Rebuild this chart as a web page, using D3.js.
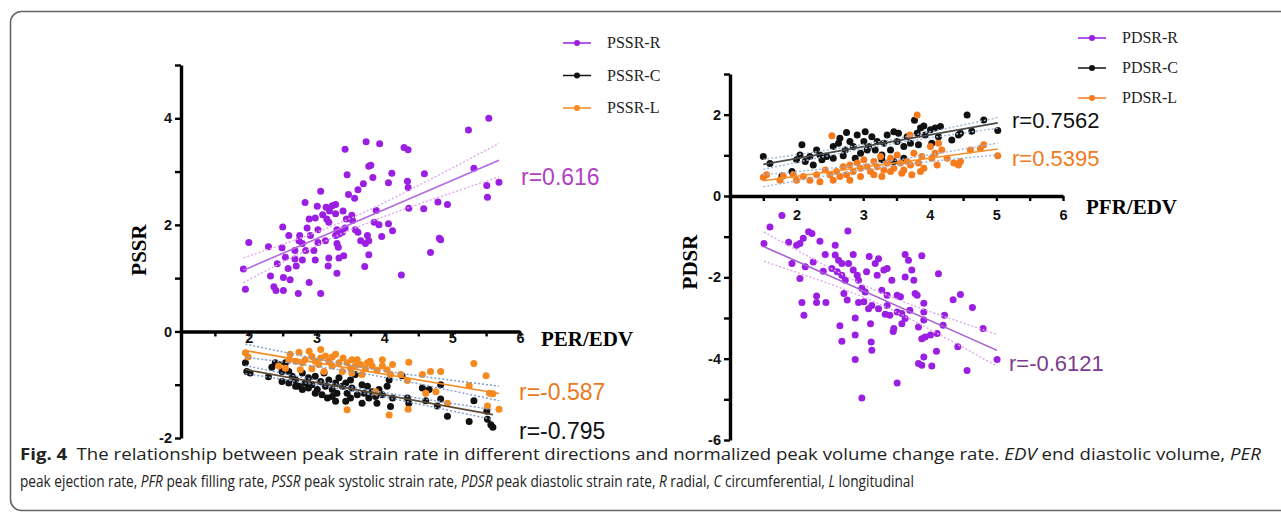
<!DOCTYPE html>
<html><head><meta charset="utf-8">
<script src="https://cdn.jsdelivr.net/npm/d3@7"></script>
<style>
html,body{margin:0;padding:0;background:#fff;}
svg{display:block;}
</style></head>
<body>
<svg id="chart" width="1281" height="515"></svg>
<script>
// ---------- DATA ----------
const xTicks = [1.5,2,2.5,3,3.5,4,4.5,5,5.5,6];
const yTicksLeft = [-2,-1,0,1,2,3,4,5];
const yTicksRight = [-6,-5,-4,-3,-2,-1,0,1,2,3];
const legendLeft = ["PSSR-R","PSSR-C","PSSR-L"];
const legendRight = ["PDSR-R","PDSR-C","PDSR-L"];
const rLeft = ["r=0.616","r=-0.587","r=-0.795"];
const rRight = ["r=0.7562","r=0.5395","r=-0.6121"];

const pssrR = [[5.54,4.00],[5.24,3.78],[3.73,3.56],[3.93,3.52],[3.42,3.42],[4.29,3.45],[4.35,3.41],[3.77,3.10],[3.80,3.12],[5.32,3.06],[3.45,2.94],[4.11,2.97],[4.59,2.96],[3.83,2.89],[4.06,2.79],[4.34,2.82],[4.35,2.70],[3.69,2.77],[3.61,2.66],[5.69,2.80],[5.51,2.74],[5.52,2.52],[3.06,2.63],[3.47,2.57],[3.56,2.50],[2.83,2.42],[3.01,2.35],[3.14,2.33],[3.23,2.36],[3.28,2.38],[3.39,2.26],[3.19,2.26],[4.36,2.31],[4.58,2.30],[4.79,2.43],[4.93,2.38],[3.88,2.27],[2.98,2.13],[2.89,2.11],[3.15,2.11],[3.18,2.05],[3.44,2.11],[3.53,2.08],[3.85,2.05],[3.92,2.00],[4.06,2.02],[4.12,1.89],[2.50,1.96],[2.86,1.94],[3.30,1.91],[3.42,1.94],[3.38,1.86],[3.57,1.91],[3.61,1.86],[2.59,1.80],[2.75,1.80],[2.91,1.80],[3.28,1.80],[3.33,1.83],[3.75,1.80],[3.96,1.78],[2.00,1.67],[2.29,1.59],[2.49,1.57],[2.74,1.70],[2.79,1.65],[3.02,1.67],[3.13,1.70],[3.30,1.65],[3.32,1.58],[3.65,1.70],[3.72,1.65],[3.77,1.70],[4.81,1.75],[4.83,1.72],[2.68,1.52],[2.84,1.52],[2.96,1.52],[2.54,1.39],[2.68,1.36],[2.79,1.34],[2.98,1.34],[3.18,1.38],[3.33,1.38],[3.40,1.42],[3.77,1.44],[4.68,1.48],[2.42,1.27],[2.70,1.23],[2.58,1.18],[3.17,1.23],[3.71,1.22],[1.92,1.17],[2.32,1.04],[2.51,1.01],[2.61,0.97],[3.30,1.09],[4.25,1.06],[2.89,0.92],[2.37,0.84],[2.40,0.77],[2.51,0.77],[1.95,0.79],[2.73,0.71],[3.06,0.71],[3.09,2.19],[3.28,2.21],[3.52,2.18],[3.02,1.91]];

const pssrL = [[1.95,-0.40],[1.99,-0.48],[2.61,-0.43],[2.74,-0.39],[2.89,-0.37],[3.06,-0.34],[3.13,-0.46],[3.28,-0.43],[3.39,-0.50],[2.59,-0.53],[2.69,-0.56],[2.79,-0.59],[2.83,-0.53],[2.98,-0.56],[3.03,-0.62],[3.18,-0.56],[3.23,-0.65],[3.33,-0.59],[3.45,-0.59],[3.50,-0.69],[3.57,-0.65],[3.65,-0.62],[3.72,-0.70],[3.79,-0.56],[3.82,-0.65],[3.89,-0.73],[3.97,-0.65],[4.12,-0.62],[4.36,-0.58],[4.09,-0.81],[4.24,-0.81],[4.34,-0.92],[4.56,-0.81],[4.68,-0.75],[4.83,-0.75],[5.32,-0.60],[5.50,-0.83],[4.61,-1.16],[4.76,-1.13],[4.93,-1.35],[5.25,-1.02],[5.55,-1.16],[5.60,-1.17],[5.69,-1.46],[5.52,-1.40],[4.07,-1.57],[4.35,-1.46],[3.45,-1.47],[3.87,-1.13],[2.54,-0.69],[2.44,-0.65],[2.76,-0.72],[2.93,-0.70],[3.11,-0.75],[3.52,-0.78],[3.67,-0.81],[3.38,-0.75],[3.06,-0.50],[2.93,-0.47],[3.23,-0.48],[3.52,-0.53],[3.60,-0.53],[3.97,-0.53],[3.75,-0.59],[4.04,-0.72]];

const pssrC = [[1.95,-0.59],[1.97,-0.75],[2.02,-0.78],[2.29,-0.85],[2.34,-0.67],[2.39,-0.59],[2.44,-0.62],[2.49,-0.75],[2.54,-0.59],[2.59,-0.75],[2.49,-0.94],[2.64,-0.84],[2.69,-0.91],[2.74,-1.03],[2.79,-0.78],[2.83,-0.97],[2.88,-0.87],[2.93,-1.00],[2.98,-0.84],[3.01,-1.09],[3.06,-0.94],[3.11,-0.78],[3.13,-1.03],[3.18,-0.91],[3.23,-1.09],[3.28,-0.97],[3.30,-1.16],[3.33,-0.87],[3.38,-1.03],[3.43,-0.97],[3.45,-1.16],[3.50,-0.91],[3.52,-1.06],[3.57,-0.81],[3.60,-1.19],[3.67,-1.00],[3.70,-1.16],[3.75,-1.03],[3.77,-1.25],[3.82,-1.13],[3.87,-1.22],[3.92,-1.09],[3.97,-1.19],[4.04,-1.03],[4.07,-0.91],[4.09,-1.41],[4.12,-1.25],[4.26,-0.83],[4.34,-1.25],[4.36,-1.35],[4.56,-1.06],[4.61,-1.30],[4.66,-1.09],[4.78,-1.40],[4.83,-1.27],[4.83,-1.00],[4.93,-1.59],[5.25,-1.69],[5.32,-1.30],[5.51,-1.50],[5.52,-1.65],[5.57,-1.75],[5.60,-1.80],[3.43,-1.31],[3.16,-1.25],[2.79,-1.09],[2.98,-1.16],[3.08,-1.19],[3.23,-1.22],[3.50,-1.25],[3.67,-1.35],[3.89,-1.35],[3.28,-1.31],[2.88,-1.06],[2.69,-1.03],[2.59,-0.97]];

const pdsrC = [[1.50,0.97],[1.60,0.80],[1.78,0.49],[1.93,0.60],[2.08,1.26],[2.05,1.01],[2.13,0.85],[2.20,0.97],[2.30,1.13],[2.35,1.01],[2.25,0.76],[2.45,0.97],[2.55,1.22],[2.63,1.30],[2.65,1.42],[2.75,1.56],[2.73,1.13],[2.80,1.34],[2.85,1.22],[2.91,1.50],[2.96,1.05],[3.01,1.34],[3.03,1.58],[3.08,1.22],[3.13,1.46],[3.18,1.13],[3.21,1.34],[3.28,1.01],[3.31,1.30],[3.36,1.50],[3.41,1.13],[3.46,1.58],[3.51,1.34],[3.53,1.54],[3.61,1.22],[3.66,1.46],[3.71,1.30],[3.77,1.86],[3.81,1.54],[3.86,1.67],[3.91,1.72],[3.93,1.50],[4.01,1.63],[4.08,1.67],[4.13,1.46],[4.16,1.71],[4.33,1.38],[4.43,1.50],[4.46,1.54],[4.56,1.99],[4.63,1.59],[4.81,1.87],[5.02,1.61],[2.70,0.99],[2.55,0.93],[2.38,0.89],[2.00,0.89],[2.88,0.93],[3.06,1.13],[3.61,0.93],[3.46,0.85],[3.28,0.89],[3.83,1.26],[4.03,1.30]];

const pdsrL = [[1.50,0.46],[1.55,0.52],[1.75,0.39],[1.80,0.49],[1.95,0.52],[2.00,0.39],[2.10,0.48],[2.20,0.39],[2.30,0.52],[2.35,0.35],[2.43,0.64],[2.50,0.52],[2.53,1.48],[2.60,0.60],[2.65,0.48],[2.70,0.72],[2.75,0.52],[2.80,0.76],[2.85,0.60],[2.91,0.81],[2.96,0.68],[3.01,0.89],[3.06,0.72],[3.11,0.60],[3.16,0.85],[3.21,0.72],[3.26,0.97],[3.31,0.64],[3.36,0.81],[3.41,0.93],[3.46,0.68],[3.51,1.01],[3.56,0.81],[3.61,0.64],[3.66,0.85],[3.70,1.50],[3.73,0.52],[3.76,1.05],[3.81,1.99],[3.83,0.81],[3.88,0.97],[3.91,0.68],[4.01,1.22],[4.03,0.93],[4.08,1.05],[4.13,1.30],[4.18,1.13],[4.26,0.93],[4.36,0.81],[4.43,0.76],[4.46,0.85],[4.61,1.13],[4.76,1.17],[4.81,1.26],[5.02,0.99],[2.55,0.39],[2.96,0.48],[3.16,0.52],[3.41,0.60],[3.58,0.56],[3.86,0.60],[4.11,0.76],[3.71,0.76],[3.28,0.48],[2.80,0.39]];

const pdsrR = [[1.78,-0.48],[1.60,-0.76],[1.51,-1.17],[1.88,-1.14],[2.00,-1.21],[2.05,-1.17],[2.10,-1.04],[2.18,-0.88],[2.23,-0.92],[2.35,-1.11],[2.77,-0.86],[1.93,-1.66],[2.13,-1.74],[2.05,-2.03],[2.25,-1.62],[2.43,-1.44],[2.40,-1.85],[2.53,-1.78],[2.58,-1.21],[2.58,-1.45],[2.63,-1.58],[2.68,-1.66],[2.61,-1.86],[2.68,-1.95],[2.73,-2.07],[2.78,-1.66],[2.85,-1.44],[2.85,-1.82],[2.91,-1.95],[2.93,-2.07],[2.98,-2.27],[3.03,-2.36],[3.05,-1.86],[3.09,-1.49],[3.18,-1.66],[3.23,-1.54],[3.21,-1.95],[3.28,-2.32],[3.31,-1.82],[3.36,-1.78],[3.36,-2.44],[3.43,-2.07],[3.51,-2.44],[3.56,-2.48],[3.63,-1.44],[3.68,-1.58],[3.63,-1.99],[3.73,-1.82],[3.76,-2.07],[3.78,-2.40],[3.81,-2.44],[3.88,-1.47],[3.91,-2.64],[2.71,-2.40],[2.76,-2.56],[2.30,-2.46],[2.30,-2.62],[2.44,-2.62],[2.08,-2.62],[2.11,-2.93],[2.93,-2.62],[3.01,-2.60],[3.08,-2.77],[3.13,-2.69],[3.23,-2.77],[3.33,-2.91],[3.40,-2.93],[3.36,-2.69],[3.51,-2.85],[3.58,-2.89],[3.63,-3.01],[3.58,-3.14],[3.46,-3.26],[3.45,-3.33],[3.70,-2.81],[3.91,-2.85],[3.91,-3.05],[3.83,-3.22],[3.88,-3.51],[3.93,-3.47],[4.01,-3.42],[4.11,-3.38],[4.13,-1.91],[4.22,-2.93],[4.20,-3.18],[4.35,-2.55],[4.46,-2.42],[4.64,-2.74],[4.80,-3.26],[5.01,-4.02],[4.56,-4.29],[4.42,-3.71],[4.10,-3.82],[4.03,-4.18],[3.88,-4.16],[3.83,-4.12],[3.91,-3.96],[3.51,-4.60],[2.98,-4.97],[2.88,-4.02],[2.65,-3.19],[2.68,-3.57],[2.88,-3.42],[2.88,-3.00],[3.12,-3.59],[3.13,-3.79],[3.11,-3.14]];

// ---------- STYLE ----------
const PURPLE = "#9b1fe2", ORANGE = "#f68a1e", BLACK = "#111";
const svg = d3.select("#chart");

svg.append("rect").attr("x",10.5).attr("y",11.5).attr("width",1320).attr("height",499)
  .attr("rx",11).attr("fill","none").attr("stroke","#666").attr("stroke-width",1.6);

function fit(data){
  const n=data.length, mx=d3.mean(data,d=>d[0]), my=d3.mean(data,d=>d[1]);
  let sxx=0,sxy=0; data.forEach(d=>{sxx+=(d[0]-mx)**2; sxy+=(d[0]-mx)*(d[1]-my);});
  const b=sxy/sxx, a=my-b*mx;
  let sse=0; data.forEach(d=>{sse+=(d[1]-a-b*d[0])**2;});
  const s=Math.sqrt(sse/(n-2)), t=1.98;
  const [x0,x1]=d3.extent(data,d=>d[0]);
  const xs=d3.range(0,41).map(i=>x0+(x1-x0)*i/40);
  const hw=x=>t*s*Math.sqrt(1/n+(x-mx)**2/sxx);
  return {line:[[x0,a+b*x0],[x1,a+b*x1]], lo:xs.map(x=>[x,a+b*x-hw(x)]), hi:xs.map(x=>[x,a+b*x+hw(x)])};
}

function panel(cfg){
  const g = svg.append("g");
  const x = d3.scaleLinear().domain([1,6]).range(cfg.xr);
  const y = d3.scaleLinear().domain(cfg.yd).range(cfg.yr);
  cfg.series.forEach(s=>{
    g.append("g").selectAll("circle").data(s.data).join("circle")
      .attr("cx",d=>x(d[0])).attr("cy",d=>y(d[1])).attr("r",3.5)
      .attr("fill",s.color);
  });
  const lg = d3.line().x(d=>x(d[0])).y(d=>y(d[1]));
  cfg.series.forEach(s=>{
    const f=fit(s.data);
    g.append("path").attr("d",lg(f.lo)).attr("fill","none").attr("stroke",s.band).attr("stroke-width",1.4).attr("stroke-dasharray","2,2");
    g.append("path").attr("d",lg(f.hi)).attr("fill","none").attr("stroke",s.band).attr("stroke-width",1.4).attr("stroke-dasharray","2,2");
    g.append("path").attr("d",lg(f.line)).attr("fill","none").attr("stroke",s.lineColor).attr("stroke-width",1.6);
  });
  const ya = g.append("g").attr("transform",`translate(${x(1)},0)`)
    .call(d3.axisLeft(y).tickValues(cfg.yTicks).tickSize(6).tickSizeOuter(0).tickPadding(3)
      .tickFormat(d=> d%2===0 ? d : ""));
  const xa = g.append("g").attr("transform",`translate(0,${y(0)})`)
    .call(d3.axisBottom(x).tickValues(xTicks).tickSize(5).tickSizeOuter(0)
      .tickFormat(d=> Number.isInteger(d) ? d : ""));
  [ya,xa].forEach(a=>{
    a.select(".domain").attr("stroke","#000").attr("stroke-width",3.4);
    a.selectAll(".tick line").attr("stroke","#000").attr("stroke-width",2.4);
    a.selectAll("text").attr("font-family","'Liberation Sans',Arial,sans-serif").attr("font-weight","bold")
      .attr("font-size",14.5).attr("fill","#111");
  });
  xa.selectAll("text").attr("y",cfg.xLabelY).attr("dy",0);
  g.append("text").attr("x",cfg.xTitle[0]).attr("y",cfg.xTitle[1])
    .attr("font-family","'Liberation Serif','Times New Roman',serif").attr("font-weight","bold")
    .attr("font-size",21).text(cfg.xTitleText);
  g.append("text").attr("transform",`translate(${cfg.yTitle[0]},${cfg.yTitle[1]}) rotate(-90)`)
    .attr("text-anchor","middle")
    .attr("font-family","'Liberation Serif','Times New Roman',serif").attr("font-weight","bold")
    .attr("font-size",21).text(cfg.yTitleText);
  cfg.legend.forEach((lab,i)=>{
    const ly = cfg.legendPos[1] + i*cfg.legendStep;
    const lx = cfg.legendPos[0];
    g.append("line").attr("x1",lx).attr("x2",lx+28).attr("y1",ly).attr("y2",ly)
      .attr("stroke",cfg.series[i].color).attr("stroke-width",1.5);
    g.append("circle").attr("cx",lx+14).attr("cy",ly).attr("r",3).attr("fill",cfg.series[i].color);
    g.append("text").attr("x",lx+44).attr("y",ly+5)
      .attr("font-family","'Liberation Serif','Times New Roman',serif").attr("font-size",16)
      .attr("fill","#222").text(lab);
  });
  cfg.rLabels.forEach(r=>{
    g.append("text").attr("x",r.x).attr("y",r.y).attr("fill",r.color)
      .attr("font-family","'Liberation Sans',Arial,sans-serif").attr("font-size",cfg.rSize)
      .text(r.text);
  });
}

panel({
  xr:[181,520], yd:[-2,5], yr:[438,65], yTicks:yTicksLeft, xLabelY:12,
  series:[
    {data:pssrR,color:PURPLE,lineColor:"#b468e0",band:"#e2a6ee"},
    {data:pssrC,color:BLACK,lineColor:"#5b4b3b",band:"#7f9ccc"},
    {data:pssrL,color:ORANGE,lineColor:"#f28a26",band:"#7f9ccc"}
  ],
  xTitle:[541,346], xTitleText:"PER/EDV",
  yTitle:[146,250], yTitleText:"PSSR",
  legend:legendLeft, legendPos:[563,43], legendStep:32.5,
  rSize:23,
  rLabels:[
    {x:521,y:185,text:rLeft[0],color:"#b13fc4"},
    {x:519,y:400,text:rLeft[1],color:"#ea7a22"},
    {x:519,y:439,text:rLeft[2],color:"#111"}
  ]
});

panel({
  xr:[730,1063], yd:[-6,3], yr:[440,74], yTicks:yTicksRight, xLabelY:24,
  series:[
    {data:pdsrR,color:PURPLE,lineColor:"#a85fcf",band:"#e2a6ee"},
    {data:pdsrC,color:BLACK,lineColor:"#4a4a4a",band:"#9fb6d8"},
    {data:pdsrL,color:"#f77b1c",lineColor:"#f29030",band:"#9fb6d8"}
  ],
  xTitle:[1086,214], xTitleText:"PFR/EDV",
  yTitle:[697,262], yTitleText:"PDSR",
  legend:legendRight, legendPos:[1078,38], legendStep:30,
  rSize:22,
  rLabels:[
    {x:1012,y:128,text:rRight[0],color:"#111"},
    {x:1012,y:166,text:rRight[1],color:"#f07a1e"},
    {x:1009,y:371,text:rRight[2],color:"#7d3b8c"}
  ]
});

function captionLine(y, targetWidth, parts){
  const t = svg.append("text").attr("x",0).attr("y",0)
    .attr("font-family","'Open Sans','Noto Sans',sans-serif").attr("font-size",16).attr("fill","#222");
  parts.forEach(p=>{
    const s=t.append("tspan").text(p.t);
    if(p.b) s.attr("font-weight","bold");
    if(p.i) s.attr("font-style","italic");
  });
  const w = t.node().getComputedTextLength();
  t.attr("transform",`translate(20,${y}) scale(${targetWidth/w},1)`);
}
captionLine(460, 1242, [
  {t:"Fig. 4",b:true},
  {t:"\u2002The relationship between peak strain rate in different directions and normalized peak volume change rate. "},
  {t:"EDV",i:true},{t:" end diastolic volume, "},{t:"PER",i:true}
]);
captionLine(487, 895, [
  {t:"peak ejection rate, "},{t:"PFR",i:true},{t:" peak filling rate, "},{t:"PSSR",i:true},
  {t:" peak systolic strain rate, "},{t:"PDSR",i:true},{t:" peak diastolic strain rate, "},
  {t:"R",i:true},{t:" radial, "},{t:"C",i:true},{t:" circumferential, "},{t:"L",i:true},{t:" longitudinal"}
]);
</script>
</body></html>
